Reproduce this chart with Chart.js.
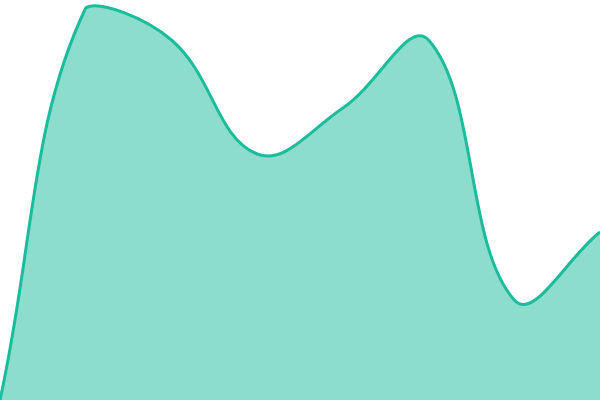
<!DOCTYPE html>
<html><head><meta charset="utf-8">
<script src="https://cdn.jsdelivr.net/npm/chart.js@4.4.0/dist/chart.umd.min.js"></script>
<style>html,body{margin:0;padding:0;background:#fff}#wrap{width:600px;height:400px}</style>
</head><body><div id="wrap"><canvas id="c"></canvas></div>
<script>
const labels = ["1","2","3","4","5","6","7","8"];
const values = [0, 98, 90, 61.5, 73, 90, 25, 42];
new Chart(document.getElementById('c'), {
  type: 'line',
  data: { labels: labels, datasets: [{
    data: values,
    borderColor: '#1abc9c',
    backgroundColor: 'rgba(26,188,156,0.5)',
    borderWidth: 3,
    fill: true,
    tension: 0.4,
    pointRadius: 0
  }]},
  options: {
    responsive: true, maintainAspectRatio: false, animation: false,
    layout: { padding: 0 },
    plugins: { legend: { display: false }, tooltip: { enabled: false } },
    scales: {
      x: { display: false },
      y: { display: false, min: 0, max: 100 }
    }
  }
});
</script></body></html>
